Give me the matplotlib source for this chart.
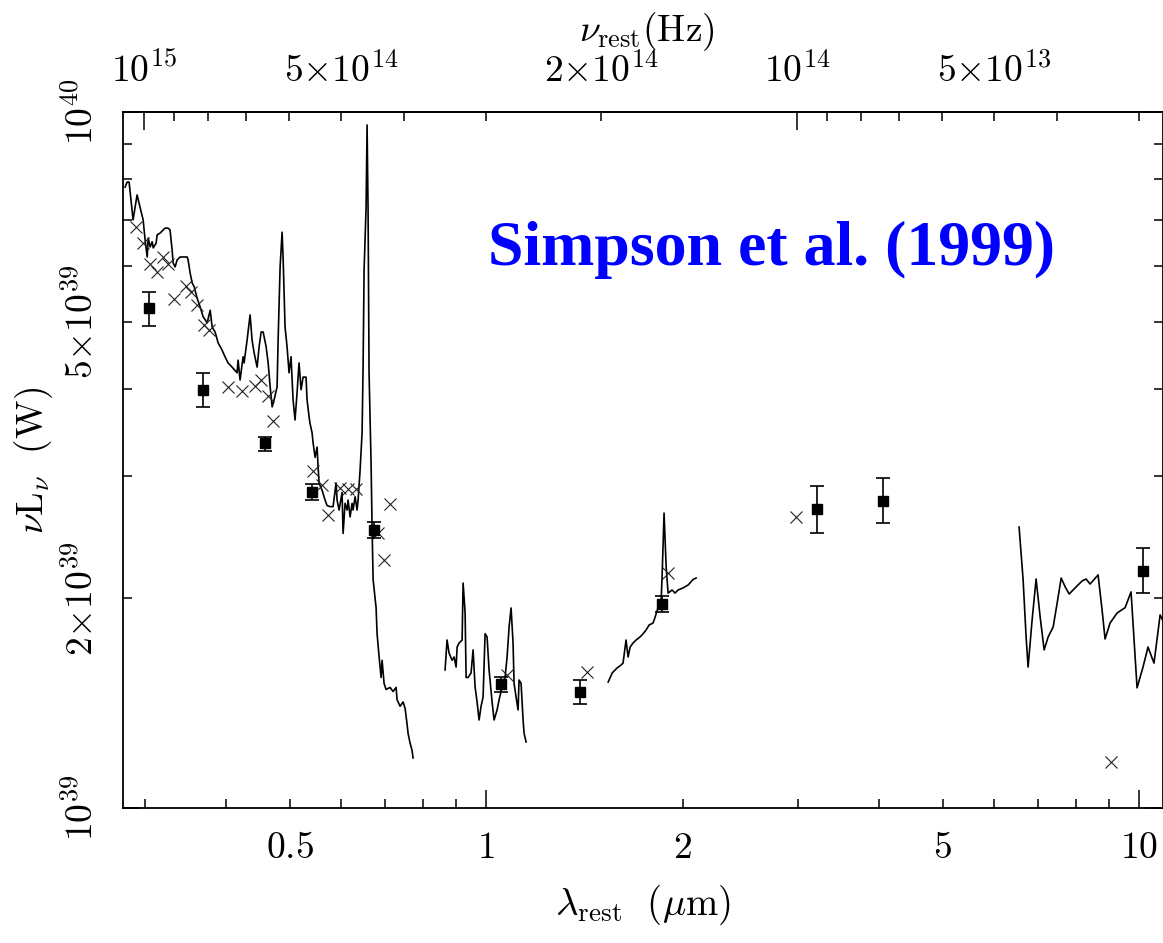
import numpy as np
import matplotlib
matplotlib.use('Agg')
import matplotlib.pyplot as plt

plt.rcParams['mathtext.fontset'] = 'cm'
plt.rcParams['font.family'] = 'serif'
plt.rcParams['font.serif'] = ['DejaVu Serif']

C_UM = 2.998e14   # speed of light, micron/s
UNIT = 1e39       # luminosities below are in units of 1e39 W

# optical spectrum (rest wavelength in micron, nuL_nu in 1e39 W)
opt_lam = [0.280, 0.282, 0.284, 0.288, 0.2921, 0.2984, 0.3005, 0.3027, 0.3038, 0.3059,
           0.3081, 0.3092, 0.3124, 0.3135, 0.3168, 0.3224, 0.3258, 0.3281, 0.3305, 0.3317,
           0.3340, 0.3364, 0.3400, 0.3436, 0.3485, 0.3497, 0.3522, 0.3547, 0.3572, 0.3610,
           0.3648, 0.3687, 0.3740, 0.3780, 0.3806, 0.3846, 0.3887, 0.3941, 0.3983, 0.4026,
           0.4083, 0.4156, 0.4171, 0.4200, 0.4245, 0.4260, 0.4305, 0.4351, 0.4382, 0.4413,
           0.4460, 0.4492, 0.4524, 0.4556, 0.4604, 0.4637, 0.4670, 0.4703, 0.4736, 0.4786,
           0.4803, 0.4837, 0.4871, 0.4888, 0.4922, 0.4957, 0.4992, 0.5027, 0.5063, 0.5098,
           0.5135, 0.5171, 0.5208, 0.5245, 0.5300, 0.5319, 0.5357, 0.5375, 0.5414, 0.5433,
           0.5472, 0.5511, 0.5530, 0.5550, 0.5609, 0.5668, 0.5708, 0.5769, 0.5830, 0.5892,
           0.5913, 0.5955, 0.6018, 0.6040, 0.6082, 0.6125, 0.6147, 0.6191, 0.6234, 0.6256,
           0.6301, 0.6345, 0.6368, 0.6413, 0.6458, 0.6481, 0.6504, 0.6550, 0.6573, 0.6596,
           0.6619, 0.6666, 0.6690, 0.6714, 0.6785, 0.6809, 0.6857, 0.6906, 0.6930, 0.6979,
           0.7028, 0.7128, 0.7204, 0.7281, 0.7307, 0.7385, 0.7463, 0.7516, 0.7568, 0.7595,
           0.7648, 0.7702, 0.7730]
opt_L = [7.80, 7.93, 7.93, 7.00, 7.60, 7.00, 6.55, 6.19, 6.59, 6.40,
         6.51, 6.38, 6.48, 6.66, 6.70, 6.81, 6.81, 6.77, 6.34, 6.07,
         5.99, 6.13, 6.19, 6.19, 6.19, 6.13, 5.87, 5.68, 5.61, 5.40,
         5.25, 5.08, 4.98, 5.19, 4.91, 4.83, 4.66, 4.55, 4.45, 4.36,
         4.30, 4.22, 4.40, 4.12, 4.45, 4.36, 4.70, 5.11, 4.70, 4.51,
         4.30, 4.60, 4.83, 4.83, 4.60, 4.36, 4.03, 3.77, 3.86, 4.03,
         4.70, 5.99, 6.72, 6.19, 4.91, 4.60, 4.22, 4.45, 3.86, 3.61,
         3.95, 4.36, 3.99, 4.16, 4.16, 3.86, 3.65, 3.57, 3.46, 3.35,
         3.19, 3.30, 3.09, 2.93, 2.86, 2.77, 2.72, 2.71, 2.71, 2.93,
         2.77, 2.68, 2.84, 2.48, 2.74, 2.68, 2.77, 2.62, 2.74, 2.68,
         2.80, 2.68, 2.77, 3.06, 3.46, 4.30, 5.93, 7.30, 9.58, 7.23,
         4.22, 3.13, 2.53, 2.13, 1.94, 1.78, 1.65, 1.54, 1.63, 1.51,
         1.48, 1.49, 1.47, 1.49, 1.43, 1.40, 1.42, 1.39, 1.32, 1.28,
         1.24, 1.21, 1.18]

# near-IR spectrum around 1 micron
z_lam = [0.8654, 0.8714, 0.8776, 0.8870, 0.8934, 0.8997, 0.9029, 0.9092, 0.9189, 0.9222,
         0.9287, 0.9320, 0.9385, 0.9484, 0.9552, 0.9620, 0.9688, 0.9756, 0.9825, 0.9895,
         0.9965, 1.0035, 1.0106, 1.0214, 1.0287, 1.0395, 1.0469, 1.0580, 1.0692, 1.0769,
         1.0845, 1.0921, 1.0998, 1.1037, 1.1115, 1.1194, 1.1233, 1.1313, 1.1394, 1.1434,
         1.1515]
z_L = [1.579, 1.743, 1.670, 1.630, 1.648, 1.594, 1.703, 1.726, 1.743, 2.105,
       1.906, 1.540, 1.540, 1.563, 1.687, 1.492, 1.420, 1.338, 1.400, 1.444,
       1.780, 1.761, 1.579, 1.420, 1.338, 1.383, 1.430, 1.492, 1.540, 1.648,
       1.820, 1.938, 1.726, 1.510, 1.444, 1.383, 1.527, 1.510, 1.338, 1.280,
       1.244]

# near-IR spectrum around 2 micron
k_lam = [1.538, 1.560, 1.587, 1.610, 1.621, 1.638, 1.650, 1.662, 1.679, 1.697,
         1.721, 1.740, 1.758, 1.777, 1.802, 1.815, 1.834, 1.854, 1.860, 1.867,
         1.873, 1.887, 1.893, 1.900, 1.927, 1.947, 1.968, 2.003, 2.039, 2.075,
         2.097]
k_L = [1.517, 1.563, 1.589, 1.605, 1.615, 1.743, 1.648, 1.703, 1.726, 1.743,
       1.761, 1.780, 1.802, 1.832, 1.844, 1.881, 1.940, 1.990, 2.147, 2.403,
       2.653, 2.220, 2.130, 2.036, 2.057, 2.036, 2.057, 2.071, 2.091, 2.130,
       2.140]

# mid-IR spectrum
mir_lam = [6.550, 6.643, 6.714, 6.761, 6.858, 6.955, 7.055, 7.155, 7.257, 7.386,
           7.491, 7.598, 7.706, 7.815, 7.980, 8.179, 8.295, 8.414, 8.654, 8.777,
           8.870, 9.028, 9.254, 9.519, 9.721, 9.929, 10.14, 10.32, 10.54, 10.77,
           11.00]
mir_L = [2.533, 2.130, 1.761, 1.594, 1.863, 2.133, 1.881, 1.687, 1.761, 1.820,
         1.970, 2.140, 2.078, 2.030, 2.071, 2.119, 2.133, 2.098, 2.162, 1.925,
         1.749, 1.844, 1.906, 1.940, 2.044, 1.488, 1.594, 1.703, 1.615, 1.894,
         1.820]

# photometry with error bars (filled squares)
phot_lam = [0.3047, 0.3686, 0.4587, 0.5415, 0.6737, 1.054, 1.393, 1.860, 3.213, 4.055, 10.14]
phot_L = [5.23, 3.99, 3.35, 2.84, 2.51, 1.507, 1.468, 1.964, 2.689, 2.761, 2.191]
phot_lo = [4.93, 3.77, 3.26, 2.77, 2.44, 1.468, 1.411, 1.912, 2.484, 2.568, 2.036]
phot_hi = [5.51, 4.22, 3.41, 2.92, 2.58, 1.543, 1.527, 2.017, 2.902, 2.980, 2.363]

# other photometry (crosses)
cross_lam = [0.2911, 0.2984, 0.3058, 0.3134, 0.3200, 0.3258, 0.3328, 0.3472, 0.3534, 0.3610,
             0.3700, 0.3765, 0.4027, 0.4230, 0.4429, 0.4524, 0.4636, 0.4719, 0.5434, 0.5608,
             0.5728, 0.5976, 0.6147, 0.6323, 0.6832, 0.6978, 0.7129, 1.077, 1.428, 1.899,
             2.984, 9.06]
cross_L = [6.84, 6.48, 6.05, 5.89, 6.19, 6.05, 5.39, 5.62, 5.51, 5.28,
           4.94, 4.86, 4.03, 3.97, 4.04, 4.12, 3.91, 3.60, 3.05, 2.91,
           2.64, 2.88, 2.87, 2.87, 2.48, 2.27, 2.73, 1.553, 1.568, 2.176,
           2.619, 1.164]

# axis ticks
x_major = [1, 10]
x_major_lab = ['$1$', '$10$']
x_minor = [0.3, 0.4, 0.5, 0.6, 0.7, 0.8, 0.9, 2, 3, 4, 5, 6, 7, 8, 9]
x_minor_lab = ['', '', '$0.5$', '', '', '', '', '$2$', '', '', '$5$', '', '', '', '']
y_major = [1e39, 1e40]
y_major_lab = ['$10^{39}$', '$10^{40}$']
y_minor = [2e39, 3e39, 4e39, 5e39, 6e39, 7e39, 8e39, 9e39]
y_minor_lab = [r'$2{\times}10^{39}$', '', '', r'$5{\times}10^{39}$', '', '', '', '']
nu_major = [1e15, 1e14]
nu_major_lab = ['$10^{15}$', '$10^{14}$']
nu_minor = [9e14, 8e14, 7e14, 6e14, 5e14, 4e14, 3e14, 2e14,
            9e13, 8e13, 7e13, 6e13, 5e13, 4e13, 3e13]
nu_minor_lab = ['', '', '', '', r'$5{\times}10^{14}$', '', '', r'$2{\times}10^{14}$',
                '', '', '', '', r'$5{\times}10^{13}$', '', '']


def lam_to_nu(x):
    x = np.asarray(x, dtype=float)
    with np.errstate(divide='ignore'):
        return C_UM / x


fig = plt.figure(figsize=(11.63, 9.43), dpi=100)
ax = fig.add_axes([0.1058, 0.1432, 0.8942, 0.738])

for lam, lum in [(opt_lam, opt_L), (z_lam, z_L), (k_lam, k_L), (mir_lam, mir_L)]:
    ax.plot(lam, np.array(lum) * UNIT, color='black', lw=1.2)

L = np.array(phot_L) * UNIT
yerr = [L - np.array(phot_lo) * UNIT, np.array(phot_hi) * UNIT - L]
ax.errorbar(phot_lam, L, yerr=yerr, fmt='s', color='black', ms=7.5,
            elinewidth=1.2, capsize=5, capthick=1.2, zorder=4)
ax.plot(cross_lam, np.array(cross_L) * UNIT, 'x', color='#222222', ms=9, mew=0.8, zorder=3)

ax.set_xscale('log')
ax.set_yscale('log')
ax.set_xlim(0.278, 10.88)
ax.set_ylim(1e39, 1e40)

ax.set_xticks(x_major, x_major_lab)
ax.set_xticks(x_minor, x_minor_lab, minor=True)
ax.set_yticks(y_major, y_major_lab)
ax.set_yticks(y_minor, y_minor_lab, minor=True)
for lab in ax.get_yticklabels(which='both'):
    lab.set_rotation(90)
    lab.set_va('center')

ax.tick_params(which='both', direction='in', top=False, right=True, width=1.1,
               labelsize=27, pad=16)
ax.tick_params(which='major', length=13)
ax.tick_params(which='minor', length=6.5)
for sp in ax.spines.values():
    sp.set_linewidth(1.3)

sec = ax.secondary_xaxis('top', functions=(lam_to_nu, lam_to_nu))
sec.set_xticks(nu_major, nu_major_lab)
sec.set_xticks(nu_minor, nu_minor_lab, minor=True)
sec.tick_params(which='both', direction='in', width=1.1, labelsize=27, pad=16)
sec.tick_params(which='major', length=13)
sec.tick_params(which='minor', length=6.5)
sec.spines['top'].set_linewidth(1.3)

fig.text(647 / 1163, 1 - 32 / 943, r'$\nu_{\mathrm{rest}}\mathrm{(Hz)}$',
         fontsize=27, ha='center', va='center')
ax.set_xlabel(r'$\lambda_{\mathrm{rest}}\ \ (\mu\mathrm{m})$', fontsize=28)
ax.xaxis.set_label_coords(0.5, -0.108)
ax.set_ylabel(r'$\nu\mathrm{L}_{\nu}\ \ (\mathrm{W})$', fontsize=27)
ax.yaxis.set_label_coords(-0.065, 0.5)

ax.text(0.624, 0.802, 'Simpson et al. (1999)', transform=ax.transAxes,
        fontsize=46, fontweight='bold', family='Liberation Serif',
        color='#0000ff', ha='center', va='center')

fig.savefig('out.png', dpi=100)
